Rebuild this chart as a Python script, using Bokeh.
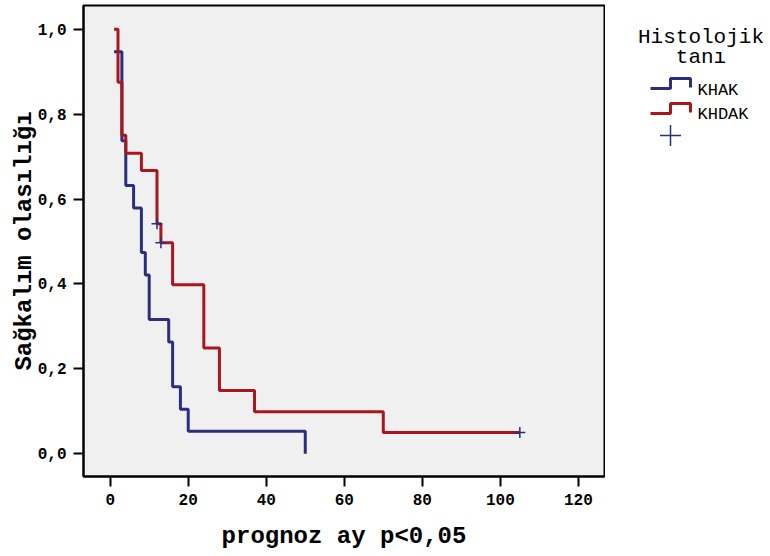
from bokeh.plotting import figure
from bokeh.layouts import row
from bokeh.models import Range1d, FixedTicker, CustomJSTickFormatter
from bokeh.core.properties import value
from bokeh.embed import file_html
from bokeh.resources import INLINE

# ---- data ----
khak_time = [1, 3, 4, 6, 8, 9, 10, 15, 16, 18, 20, 50]
khak_surv = [0.947, 0.737, 0.632, 0.579, 0.474, 0.421, 0.316, 0.263, 0.158, 0.105, 0.053, 0.0]
khdak_time = [1, 2, 3, 4, 8, 12, 13, 16, 24, 28, 37, 70, 105]
khdak_surv = [1.0, 0.875, 0.75, 0.708, 0.667, 0.542, 0.497, 0.398, 0.249, 0.149, 0.099, 0.050, 0.050]
cens_time = [12, 13, 105]
cens_surv = [0.542, 0.497, 0.050]
x_ticks = [0, 20, 40, 60, 80, 100, 120]
y_ticks = [0.0, 0.2, 0.4, 0.6, 0.8, 1.0]
groups = ["KHAK", "KHDAK"]
legend_title = ["Histolojik", "tanı"]

BLUE = "#2b2e7c"
RED = "#a9161e"
FONT = "Liberation Mono"

p = figure(width=605, height=556,
           x_range=Range1d(-6.84, 126.7), y_range=Range1d(-0.0535, 1.0558),
           toolbar_location=None, output_backend="svg",
           min_border_left=83, min_border_right=1, min_border_top=5, min_border_bottom=80,
           background_fill_color="#f0f0f0", border_fill_color="white")
p.grid.visible = False
p.outline_line_color = "black"
p.outline_line_width = 2
p.outline_line_alpha = 1

p.xaxis.ticker = FixedTicker(ticks=x_ticks)
p.yaxis.ticker = FixedTicker(ticks=y_ticks)
p.yaxis.formatter = CustomJSTickFormatter(code="return tick.toFixed(1).replace('.', ',');")
p.xaxis.axis_label = "prognoz ay p<0,05"
p.yaxis.axis_label = "Sağkalım olasılığı"
for ax in (p.xaxis, p.yaxis):
    ax.axis_line_color = "black"
    ax.axis_line_width = 2
    ax.major_tick_line_color = "black"
    ax.major_tick_line_width = 2
    ax.major_tick_out = 10
    ax.major_tick_in = 0
    ax.minor_tick_line_color = None
    ax.major_label_text_font = FONT
    ax.major_label_text_font_style = "bold"
    ax.major_label_text_font_size = "16px"
    ax.major_label_text_color = "black"
    ax.axis_label_text_font = FONT
    ax.axis_label_text_font_style = "bold"
    ax.axis_label_text_font_size = "24px"
    ax.axis_label_text_color = "black"
p.xaxis.major_label_standoff = 7
p.xaxis.axis_label_standoff = 15
p.yaxis.major_label_standoff = 7
p.yaxis.axis_label_standoff = -3

p.step(khak_time, khak_surv, mode="after", line_color=BLUE, line_width=3)
p.step(khdak_time, khdak_surv, mode="after", line_color=RED, line_width=3)
p.scatter(cens_time, cens_surv, marker="cross", size=11, line_color=BLUE, line_width=1.5)

# ---- legend panel (coordinates are page pixels; frame aligned with main plot frame 5..476) ----
lg = figure(width=165, height=556, x_range=Range1d(605, 770), y_range=Range1d(476, 5),
            toolbar_location=None, output_backend="svg",
            min_border_left=0, min_border_right=0, min_border_top=5, min_border_bottom=80,
            x_axis_type=None, y_axis_type=None, border_fill_color="white",
            background_fill_color="white")
lg.grid.visible = False
lg.outline_line_color = None

lg.text(x=[700.5, 700.5], y=[37, 57], text=legend_title, text_align="center",
        text_baseline="alphabetic", text_font=value(FONT), text_font_size="21px",
        text_color="black")
lg.line([650, 670, 670, 690, 690], [88, 88, 78, 78, 87], line_color=BLUE, line_width=3)
lg.line([650, 670, 670, 690, 690], [113, 113, 103, 103, 112], line_color=RED, line_width=3)
lg.text(x=[697, 697], y=[90, 114], text=groups, text_align="left",
        text_baseline="alphabetic", text_font=value(FONT), text_font_size="17px",
        text_color="black")
lg.scatter([670], [135], marker="cross", size=21, line_color=BLUE, line_width=1.5)

layout = row(p, lg)
open("out.html", "w").write(file_html(layout, INLINE))
